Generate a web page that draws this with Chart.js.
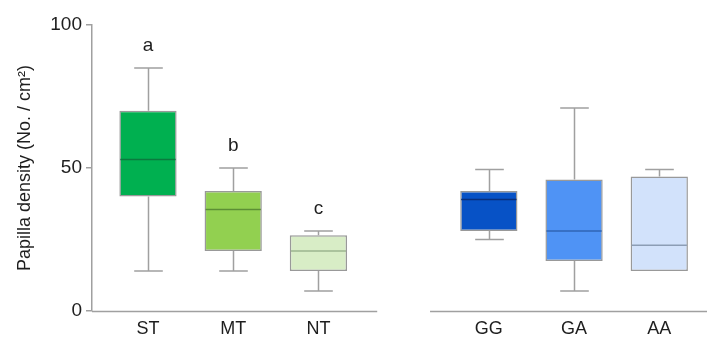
<!DOCTYPE html>
<html>
<head>
<meta charset="utf-8">
<script src="https://cdn.jsdelivr.net/npm/chart.js@4/dist/chart.umd.min.js"></script>
<style>
  html, body { margin: 0; padding: 0; background: #fff; }
  #wrap { width: 707px; height: 340px; position: relative; }
</style>
</head>
<body>
<div id="wrap"><canvas id="c" width="707" height="340"></canvas></div>
<script>
// Papilla density by tongue region and by genotype (box plots)
const categories = ['ST', 'MT', 'NT', 'GG', 'GA', 'AA'];
const groupSize = 3;                       // two groups of three, separated by an empty slot
const minValues    = [14, 14, 7, 25, 7, 14];
const q1Values     = [40, 21, 14, 28, 17.5, 14];
const medianValues = [53, 35.5, 21, 39, 28, 23];
const q3Values     = [70, 42, 26.5, 42, 46, 47];
const maxValues    = [85, 50, 28, 49.5, 71, 49.5];
const sigLetters   = ['a', 'b', 'c', '', '', ''];
const yTicks       = [0, 50, 100];

const fillColors   = ['#00b050', '#92d050', '#d8edc6', '#0752c6', '#4f93f5', '#d2e2fb'];
const medianColors = ['#0b7a3e', '#5c8f35', '#9db58f', '#0a2f7a', '#2f64b5', '#8c9db5'];

const slotOf = i => (i < groupSize ? i : i + 1);
const slots = categories.map((_, i) => slotOf(i));
const labelAt = {};
slots.forEach((s, i) => { labelAt[s] = categories[i]; });

const FONT = '"Liberation Sans", Arial, sans-serif';
const TEXT = '#1e1e1e';
const AXIS = '#a0a0a0';

// Whiskers, caps, medians, letters and the broken x axis line
const boxExtras = {
  id: 'boxExtras',
  afterDatasetsDraw(chart) {
    const { ctx, scales: { x, y } } = chart;
    const meta = chart.getDatasetMeta(0);
    ctx.save();
    meta.data.forEach((bar, i) => {
      const cx = Math.round(bar.x) + 0.5;
      const half = bar.width / 2;
      const capHalf = half / 2;
      // whiskers
      ctx.strokeStyle = AXIS;
      ctx.lineWidth = 1.5;
      ctx.beginPath();
      if (maxValues[i] > q3Values[i]) {
        ctx.moveTo(cx, y.getPixelForValue(q3Values[i]));
        ctx.lineTo(cx, y.getPixelForValue(maxValues[i]));
        ctx.moveTo(cx - capHalf, y.getPixelForValue(maxValues[i]));
        ctx.lineTo(cx + capHalf, y.getPixelForValue(maxValues[i]));
      }
      if (minValues[i] < q1Values[i]) {
        ctx.moveTo(cx, y.getPixelForValue(q1Values[i]));
        ctx.lineTo(cx, y.getPixelForValue(minValues[i]));
        ctx.moveTo(cx - capHalf, y.getPixelForValue(minValues[i]));
        ctx.lineTo(cx + capHalf, y.getPixelForValue(minValues[i]));
      }
      ctx.stroke();
      // median
      ctx.strokeStyle = medianColors[i];
      ctx.lineWidth = 1.5;
      ctx.beginPath();
      const my = y.getPixelForValue(medianValues[i]);
      ctx.moveTo(bar.x - half + 1, my);
      ctx.lineTo(bar.x + half - 1, my);
      ctx.stroke();
      // significance letter
      if (sigLetters[i]) {
        ctx.fillStyle = TEXT;
        ctx.font = '19px ' + FONT;
        ctx.textAlign = 'center';
        ctx.textBaseline = 'middle';
        ctx.fillText(sigLetters[i], bar.x, y.getPixelForValue(maxValues[i]) - 22);
      }
    });
    // x axis drawn in two pieces, broken at the empty slot
    const gap = 0.31;
    const gapSlot = groupSize;
    const by = Math.round(y.getPixelForValue(0)) + 0.5;
    ctx.strokeStyle = AXIS;
    ctx.lineWidth = 1.5;
    ctx.beginPath();
    ctx.moveTo(x.getPixelForValue(x.min), by);
    ctx.lineTo(x.getPixelForValue(gapSlot - gap), by);
    ctx.moveTo(x.getPixelForValue(gapSlot + gap), by);
    ctx.lineTo(x.getPixelForValue(x.max), by);
    ctx.stroke();
    ctx.restore();
  }
};

new Chart(document.getElementById('c'), {
  type: 'bar',
  data: {
    datasets: [{
      data: slots.map((s, i) => ({ x: s, y: [q1Values[i], q3Values[i]] })),
      backgroundColor: fillColors,
      borderColor: 'rgba(70,70,70,0.55)',
      borderWidth: 1.5,
      borderSkipped: false,
      barPercentage: 0.84,
      categoryPercentage: 0.8
    }]
  },
  options: {
    responsive: false,
    animation: false,
    layout: { padding: { top: 25, right: 0, bottom: 0, left: 0 } },
    plugins: { legend: { display: false }, tooltip: { enabled: false } },
    scales: {
      x: {
        type: 'linear',
        offset: false,
        min: -0.657,
        max: 6.56,
        grid: { display: false, drawTicks: false },
        border: { display: false },
        afterBuildTicks(scale) { scale.ticks = slots.map(v => ({ value: v })); },
        afterFit(scale) { scale.height = 29; },
        ticks: {
          autoSkip: false,
          maxRotation: 0,
          padding: 7,
          color: TEXT,
          font: { family: FONT, size: 18 },
          callback: v => labelAt[v] || ''
        }
      },
      y: {
        min: 0,
        max: 100,
        afterBuildTicks(scale) { scale.ticks = yTicks.map(v => ({ value: v })); },
        afterFit(scale) { scale.width = 92; },
        grid: { drawOnChartArea: false, drawTicks: true, tickLength: 6, color: AXIS, lineWidth: 1.5 },
        border: { display: true, color: AXIS, width: 1.5 },
        ticks: { padding: 4, color: TEXT, font: { family: FONT, size: 19 } },
        title: {
          display: true,
          text: 'Papilla density (No. / cm²)',
          color: TEXT,
          font: { family: FONT, size: 18 },
          padding: { top: 14, bottom: 0 }
        }
      }
    }
  },
  plugins: [boxExtras]
});
</script>
</body>
</html>
